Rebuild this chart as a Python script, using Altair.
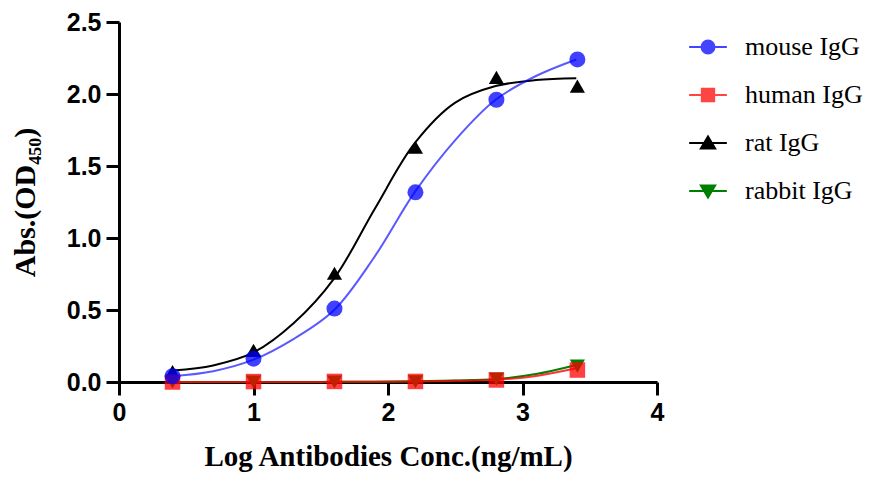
import altair as alt
import pandas as pd

# series, in legend order
series_names = ["mouse IgG", "human IgG", "rat IgG", "rabbit IgG"]
point_colors = ["#0000ff", "#ff0000", "#000000", "#008000"]
legend_colors = ["#4444ff", "#ff4444", "#000000", "#008000"]

# measured points (log ng/mL vs OD450)
log_conc = [0.398, 1.0, 1.602, 2.204, 2.806, 3.408]
mouse_abs = [0.04, 0.162, 0.51, 1.317, 1.96, 2.24]
human_abs = [0.0, 0.003, 0.004, 0.004, 0.014, 0.083]
rat_abs = [0.072, 0.22, 0.755, 1.63, 2.115, 2.055]
rabbit_abs = [0.0, 0.0, 0.0, 0.002, 0.02, 0.11]

# fitted curves
curve_x = [0.4, 0.7, 1.0, 1.3, 1.6, 1.9, 2.2, 2.5, 2.8, 3.1, 3.4]
mouse_fit = [0.04, 0.075, 0.155, 0.30, 0.50, 0.87, 1.32, 1.68, 1.96, 2.125, 2.24]
human_fit = [0.0, 0.0, 0.0, 0.0, 0.001, 0.002, 0.004, 0.008, 0.015, 0.042, 0.095]
rat_fit = [0.08, 0.115, 0.205, 0.41, 0.72, 1.20, 1.66, 1.94, 2.055, 2.097, 2.11]
rabbit_fit = [0.0, 0.0, 0.0, 0.0, 0.001, 0.002, 0.005, 0.01, 0.02, 0.055, 0.118]

# legend symbols: short line with the marker on it
legend_paths = [
    "M-2.9,0H2.9M1,0A1,1,0,1,1,-1,0A1,1,0,1,1,1,0Z",
    "M-2.9,0H2.9M-0.95,-0.95H0.95V0.95H-0.95Z",
    "M-2.9,0H2.9M0,-1L1.1,0.85H-1.1Z",
    "M-2.9,0H2.9M0,1L1.1,-0.85H-1.1Z",
]

points = pd.DataFrame({
    "x": log_conc * 4,
    "y": mouse_abs + human_abs + rat_abs + rabbit_abs,
    "series": [s for s in series_names for _ in log_conc],
})
curves = pd.DataFrame({
    "x": curve_x * 4,
    "y": mouse_fit + human_fit + rat_fit + rabbit_fit,
    "series": [s for s in series_names for _ in curve_x],
})

x_enc = alt.X("x:Q", scale=alt.Scale(domain=[0, 4], nice=False),
              axis=alt.Axis(values=[0, 1, 2, 3, 4], format="d", labelFlush=False,
                            title="Log Antibodies Conc.(ng/mL)", titlePadding=17,
                            titleFontSize=29))
y_enc = alt.Y("y:Q", scale=alt.Scale(domain=[0, 2.5], nice=False),
              axis=alt.Axis(values=[0, 0.5, 1, 1.5, 2, 2.5], format=".1f",
                            title="Abs.(OD₄₅₀)", titlePadding=26))

draw_order = ["rat IgG", "rabbit IgG", "human IgG", "mouse IgG"]
line_opacity = {"mouse IgG": 0.65, "human IgG": 0.8, "rat IgG": 1, "rabbit IgG": 1}
marker = {
    "rat IgG": dict(shape="triangle-up", size=230, opacity=1),
    "rabbit IgG": dict(shape="triangle-down", size=230, opacity=1),
    "human IgG": dict(shape="square", size=240, opacity=0.75),
    "mouse IgG": dict(shape="circle", size=256, opacity=0.75),
}

line_layers = []
point_layers = []
for name in draw_order:
    color = point_colors[series_names.index(name)]
    line_layers.append(
        alt.Chart(curves).transform_filter(alt.datum.series == name)
        .mark_line(interpolate="catmull-rom", strokeWidth=2, color=color, opacity=line_opacity[name])
        .encode(x=x_enc, y=y_enc)
    )
    point_layers.append(
        alt.Chart(points).transform_filter(alt.datum.series == name)
        .mark_point(filled=True, color=color, **marker[name])
        .encode(x="x:Q", y="y:Q")
    )

# legend only: no marks drawn, entries come from the fixed domains
legend_layer = alt.Chart(points).transform_filter("false").mark_point(filled=True, opacity=1).encode(
    x="x:Q", y="y:Q",
    fill=alt.Fill("series:N", scale=alt.Scale(domain=series_names, range=legend_colors)),
    stroke=alt.Stroke("series:N", scale=alt.Scale(domain=series_names, range=legend_colors)),
    shape=alt.Shape("series:N", scale=alt.Scale(domain=series_names, range=legend_paths),
                    legend=alt.Legend(title=None, orient="none", legendX=576, legendY=12,
                                      symbolSize=169, symbolStrokeWidth=2, symbolOpacity=1,
                                      labelFont="Liberation Serif", labelFontSize=26,
                                      labelColor="black", labelOffset=24, rowPadding=22,
                                      padding=0)),
)

chart = alt.layer(*line_layers, *point_layers, legend_layer).properties(
    width=538, height=360,
    autosize=alt.AutoSizeParams(type="none"),
    padding={"left": 111, "top": 14, "right": 217, "bottom": 94},
    background="white",
).configure_view(stroke=None).configure_axis(
    grid=False, domainColor="black", domainWidth=3, tickColor="black", tickWidth=3,
    tickSize=13, labelFont="Liberation Sans", labelFontWeight="bold", labelFontSize=25,
    labelColor="black", labelPadding=5, titleFont="Liberation Serif", titleFontSize=30,
    titleFontWeight="bold", titleColor="black",
)

chart.save("out.html", embed_options={"renderer": "svg", "actions": False})
